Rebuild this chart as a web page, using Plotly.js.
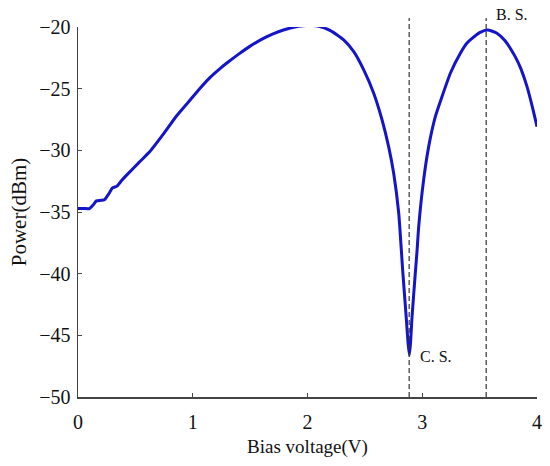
<!DOCTYPE html>
<html>
<head>
<meta charset="utf-8">
<script src="https://cdn.plot.ly/plotly-3.0.1.min.js"></script>
<style>html,body{margin:0;padding:0;background:#fff;}#chart{width:550px;height:466px;}</style>
</head>
<body>
<div id="chart"></div>
<script>
const biasVoltage = [0, 0.05, 0.1, 0.13, 0.16, 0.2, 0.23, 0.27, 0.3, 0.34, 0.38, 0.43, 0.53, 0.63, 0.75, 0.86, 0.97, 1.06, 1.15, 1.24, 1.3, 1.4, 1.5, 1.62, 1.7, 1.79, 1.88, 1.96, 2.03, 2.1, 2.2, 2.315, 2.403, 2.49, 2.577, 2.65, 2.707, 2.751, 2.795, 2.83, 2.86, 2.876, 2.888, 2.898, 2.911, 2.935, 2.955, 2.969, 3.012, 3.056, 3.114, 3.172, 3.245, 3.332, 3.39, 3.434, 3.5, 3.57, 3.651, 3.72, 3.81, 3.86, 3.913, 3.96, 4.0];
const powerDbm = [-34.72, -34.72, -34.72, -34.45, -34.1, -34.05, -34.0, -33.5, -33.05, -32.9, -32.45, -31.95, -31.0, -30.05, -28.6, -27.2, -26.0, -25.0, -24.1, -23.35, -22.9, -22.2, -21.55, -20.9, -20.55, -20.24, -20.02, -19.9, -19.87, -19.95, -20.3, -21.05, -22.0, -23.48, -25.37, -27.54, -29.7, -31.86, -35.1, -39.8, -43.5, -45.6, -46.6, -45.6, -43.5, -40.5, -38.1, -36.2, -32.4, -29.7, -27.27, -25.65, -23.75, -22.13, -21.3, -20.92, -20.45, -20.24, -20.5, -21.1, -22.4, -23.4, -24.84, -26.5, -28.08];
const xTicks = [0, 1, 2, 3, 4];
const yTicks = [-50, -45, -40, -35, -30, -25, -20];
const markerX = [2.886, 3.557];
const markerLabels = ["C. S.", "B. S."];

const fontFam = "Liberation Serif, Times New Roman, serif";
const axisColor = "#444";

const trace = {
  x: biasVoltage, y: powerDbm, type: "scatter", mode: "lines",
  line: {color: "#1414c8", width: 3, shape: "spline", smoothing: 0.5},
  hoverinfo: "skip"
};

const shapes = markerX.map(v => ({
  type: "line", xref: "x", yref: "paper", x0: v, x1: v, y0: 0, y1: 1.024,
  line: {color: "#333", width: 1.2, dash: "5px,3px"}
}));

const annotations = [
  {x: markerX[0] + 0.08, y: -46.7, xref: "x", yref: "y", text: markerLabels[0], showarrow: false, xanchor: "left", yanchor: "middle", font: {family: fontFam, size: 16, color: "#111"}},
  {x: markerX[1] + 0.07, y: 1.035, xref: "x", yref: "paper", text: markerLabels[1], showarrow: false, xanchor: "left", yanchor: "middle", font: {family: fontFam, size: 16, color: "#111"}}
];

const layout = {
  width: 550, height: 466,
  margin: {l: 78, r: 13, t: 27, b: 69},
  paper_bgcolor: "#fff", plot_bgcolor: "#fff",
  showlegend: false,
  font: {family: fontFam, color: "#111"},
  xaxis: {
    range: [0, 4], tickvals: xTicks, ticktext: xTicks.map(String),
    showgrid: false, zeroline: false, showline: true, linecolor: axisColor, linewidth: 1.5,
    ticks: "inside", ticklen: 4, tickcolor: axisColor, tickwidth: 1,
    ticklabelstandoff: 6,
    tickfont: {family: fontFam, size: 20, color: "#111"},
    title: {text: "Bias voltage(V)", font: {family: fontFam, size: 19, color: "#111"}, standoff: 8}
  },
  yaxis: {
    range: [-50, -20], tickvals: yTicks,
    showgrid: false, zeroline: false, showline: true, linecolor: axisColor, linewidth: 1.5,
    ticks: "inside", ticklen: 4, tickcolor: axisColor, tickwidth: 1,
    ticklabelstandoff: 2,
    tickfont: {family: fontFam, size: 20, color: "#111"},
    title: {text: "Power(dBm)", font: {family: fontFam, size: 21, color: "#111"}, standoff: 7}
  },
  shapes: shapes,
  annotations: annotations
};

Plotly.newPlot("chart", [trace], layout, {staticPlot: true, displayModeBar: false});
</script>
</body>
</html>
